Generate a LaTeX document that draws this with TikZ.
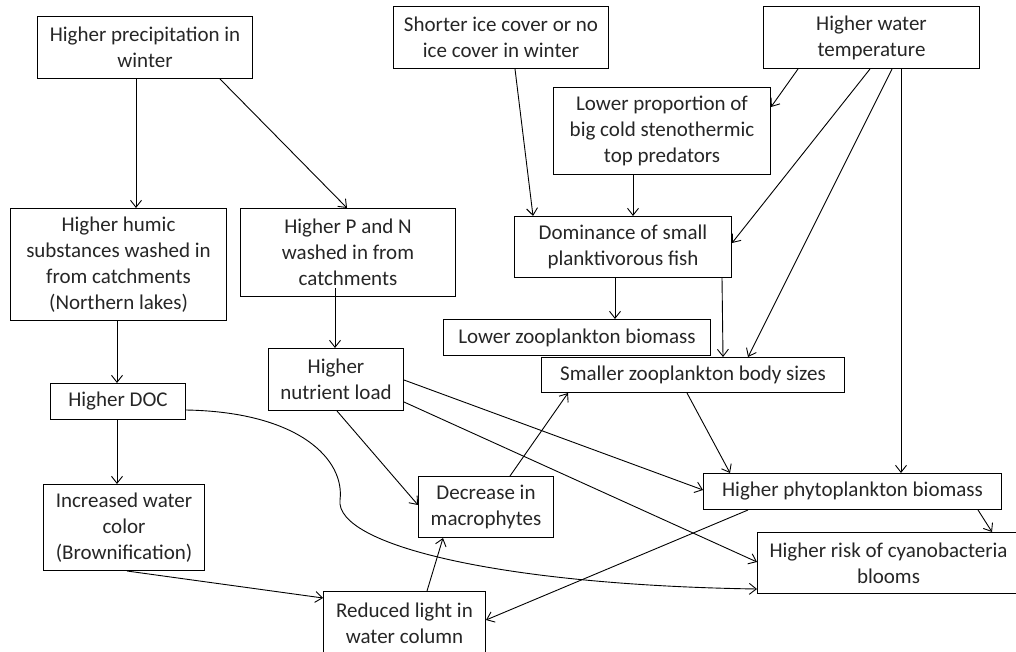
\documentclass[tikz,border=0pt]{standalone}
\usepackage{fontspec}
\setmainfont{Carlito}
\usepackage{tikz}
\usetikzlibrary{arrows.meta}

\begin{document}
\begin{tikzpicture}[x=1pt,y=-1pt,
    box/.style={draw,rectangle,anchor=north west,align=center,inner sep=2pt,line width=1pt,text=black!85,font=\fontsize{21}{26}\selectfont},
    arr/.style={draw,line width=0.9pt,-{Straight Barb[length=7pt,width=11pt]}}]
    \fill[white] (0,0) rectangle (1016,652);
    \useasboundingbox (0,0) rectangle (1016,652);
    % boxes
    \node[box,minimum width=215pt,minimum height=62pt] (precip) at (37,16) {Higher precipitation in\\winter};
    \node[box,minimum width=215pt,minimum height=62pt] (ice) at (393,6) {Shorter ice cover or no\\ice cover in winter};
    \node[box,minimum width=216pt,minimum height=62pt] (water) at (763,6) {Higher water\\temperature};
    \node[box,minimum width=217pt,minimum height=87pt] (pred) at (553,87) {Lower proportion of\\big cold stenothermic\\top predators};
    \node[box,minimum width=216pt,minimum height=112pt] (humic) at (10,208) {Higher humic\\substances washed in\\from catchments\\(Northern lakes)};
    \node[box,minimum width=215pt,minimum height=88pt] (pn) at (240,208) {Higher P and N\\washed in from\\catchments};
    \node[box,minimum width=217pt,minimum height=61pt] (fish) at (514,216) {Dominance of small\\planktivorous fish};
    \node[box,minimum width=267pt,minimum height=36pt] (lzoo) at (443,319) {Lower zooplankton biomass};
    \node[box,minimum width=303pt,minimum height=35pt] (szoo) at (541,357) {Smaller zooplankton body sizes};
    \node[box,minimum width=135pt,minimum height=62pt] (nload) at (268,348) {Higher\\nutrient load};
    \node[box,minimum width=135pt,minimum height=36pt] (doc) at (50,383) {Higher DOC};
    \node[box,minimum width=161pt,minimum height=86pt] (brown) at (43,484) {Increased water\\color\\(Brownification)};
    \node[box,minimum width=135pt,minimum height=61pt] (macro) at (418,476) {Decrease in\\macrophytes};
    \node[box,minimum width=162pt,minimum height=64pt] (light) at (323,591) {Reduced light in\\water column};
    \node[box,minimum width=298pt,minimum height=36pt] (phyto) at (703,473) {Higher phytoplankton biomass};
    \node[box,minimum width=262pt,minimum height=61pt] (cyano) at (757,532) {Higher risk of cyanobacteria\\blooms};
    % causes
    \draw[arr] ([xshift=99pt]precip.south west) -- ([xshift=126pt]humic.north west);
    \draw[arr] ([xshift=183pt]precip.south west) -- ([xshift=107pt]pn.north west);
    \draw[arr] ([xshift=122pt]ice.south west) -- ([xshift=19pt]fish.north west);
    \draw[arr] ([xshift=35pt]water.south west) -- ([yshift=-20pt]pred.north east);
    \draw[arr] ([xshift=80pt]pred.south west) -- ([xshift=119pt]fish.north west);
    \draw[arr] ([xshift=107pt]water.south west) -- ([yshift=-27pt]fish.north east);
    \draw[arr] ([xshift=129pt]water.south west) -- ([xshift=207pt]szoo.north west);
    \draw[arr] ([xshift=138pt]water.south west) -- ([xshift=198pt]phyto.north west);
    \draw[arr] ([xshift=101pt]fish.south west) -- ([xshift=172pt]lzoo.north west);
    \draw[arr] ([xshift=208pt]fish.south west) -- ([xshift=182pt]szoo.north west);
    \draw[arr] ([xshift=146pt]szoo.south west) -- ([xshift=27pt]phyto.north west);
    \draw[arr] ([xshift=95pt,yshift=9pt]pn.south west) -- ([xshift=67pt]nload.north west);
    \draw[arr] ([xshift=107pt]humic.south west) -- ([xshift=67pt]doc.north west);
    \draw[arr] ([xshift=67pt]doc.south west) -- ([xshift=74pt]brown.north west);
    \draw[arr] ([yshift=-27pt]doc.north east) .. controls (300,412) and (345,460) .. (340,500)
        .. controls (335,545) and (500,585) .. ([yshift=5pt]cyano.south west);
    \draw[arr] ([xshift=84pt]brown.south west) -- ([yshift=-7pt]light.north west);
    \draw[arr] ([xshift=104pt]light.north west) -- ([xshift=25pt]macro.south west);
    \draw[arr] ([xshift=69pt]nload.south west) -- ([yshift=-29pt]macro.north west);
    \draw[arr] ([yshift=-32pt]nload.north east) -- ([yshift=-17pt]phyto.north west);
    \draw[arr] ([yshift=-54pt]nload.north east) -- ([yshift=-30pt]cyano.north west);
    \draw[arr] ([xshift=92pt]macro.north west) -- ([xshift=27pt]szoo.south west);
    \draw[arr] ([xshift=45pt]phyto.south west) -- ([yshift=-29pt]light.north east);
    \draw[arr] ([xshift=275pt]phyto.south west) -- ([xshift=235pt]cyano.north west);
\end{tikzpicture}
\end{document}
